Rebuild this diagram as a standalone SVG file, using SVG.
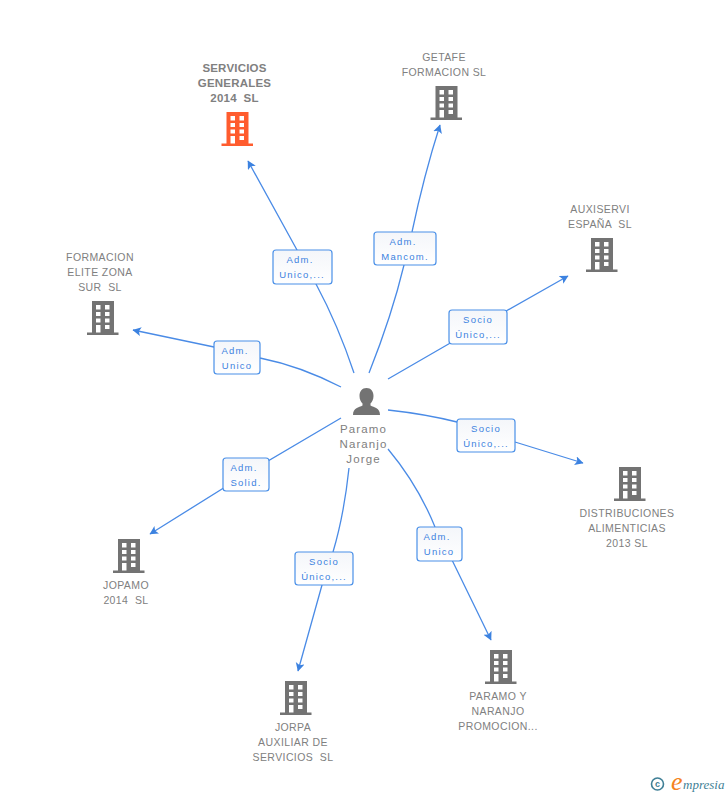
<svg xmlns="http://www.w3.org/2000/svg" width="728" height="795" viewBox="0 0 728 795">
<style>
text{white-space:pre}
.t{font-family:"Liberation Sans",Arial,sans-serif;font-size:10.5px;letter-spacing:.4px;fill:#808080;text-anchor:middle}
.b{font-weight:bold;letter-spacing:.2px;font-size:11.5px}
.p{font-size:11.5px;letter-spacing:1.1px}
.l{font-family:"Liberation Sans",Arial,sans-serif;font-size:9.5px;letter-spacing:1.2px;fill:#3c82e0;text-anchor:middle}
.c{fill:none;stroke:#4a8be6;stroke-width:1.3}
.r{fill:url(#g);stroke:#4a90e8;stroke-width:1.2}
</style>
<defs>
<linearGradient id="g" x1="0" y1="0" x2="0" y2="1"><stop offset="0" stop-color="#f4f6fa"/><stop offset="1" stop-color="#fff"/></linearGradient>
<marker id="a" markerUnits="userSpaceOnUse" markerWidth="11" markerHeight="11" refX="8" refY="4.500" orient="auto"><path d="M0 0L8.500 4.500L0 9L2 4.500Z" fill="#3c82e0"/></marker>
<path id="bld" fill-rule="evenodd" d="M5 0H27V31.500H31.500V34H0V31.500H5ZM9 4V8.500H13.500V4ZM18 4V8.500H22.500V4ZM9 11V15H13.500V11ZM18 11V15H22.500V11ZM9 17.500V21.500H13.500V17.500ZM18 17.500V21.500H22.500V17.500ZM9 24V31.500H13.500V24ZM18 24V28H22.500V24Z"/>
</defs>
<g id="connectors">
<path class="c" marker-end="url(#a)" d="M354 373Q338 325 316 284L297 250L248 161"/>
<path class="c" marker-end="url(#a)" d="M369 373Q392 315 404 265L412 232Q424 175 440 125"/>
<path class="c" marker-end="url(#a)" d="M388 379L478 327L568 276"/>
<path class="c" marker-end="url(#a)" d="M388 410Q425 414 457 422L515 442L583 463"/>
<path class="c" marker-end="url(#a)" d="M388 449Q418 485 435 527L452 560L491 640"/>
<path class="c" marker-end="url(#a)" d="M349 468Q344 515 333 552L322 585L298 671"/>
<path class="c" marker-end="url(#a)" d="M341 418L246 474L150 534"/>
<path class="c" marker-end="url(#a)" d="M341 387Q300 366 260 358L214 347L133 330"/>
</g>
<g id="n-servicios"><use href="#bld" x="221.500" y="112" fill="#ff5c2e"/><text class="t b" x="234.500" y="72">SERVICIOS</text><text class="t b" x="234.500" y="87">GENERALES</text><text class="t b" x="234.500" y="102">2014  SL</text></g>
<g id="n-getafe"><use href="#bld" x="430.500" y="86" fill="#737373"/><text class="t" x="444" y="61">GETAFE</text><text class="t" x="444" y="76">FORMACION SL</text></g>
<g id="n-auxiservi"><use href="#bld" x="586" y="238" fill="#737373"/><text class="t" x="600" y="213">AUXISERVI</text><text class="t" x="600" y="228">ESPAÑA  SL</text></g>
<g id="n-distribuciones"><use href="#bld" x="614" y="467" fill="#737373"/><text class="t" x="627" y="517">DISTRIBUCIONES</text><text class="t" x="627" y="532">ALIMENTICIAS</text><text class="t" x="627" y="547">2013 SL</text></g>
<g id="n-paramo-naranjo"><use href="#bld" x="485" y="650" fill="#737373"/><text class="t" x="498" y="700">PARAMO Y</text><text class="t" x="498" y="715">NARANJO</text><text class="t" x="498" y="730">PROMOCION...</text></g>
<g id="n-jorpa"><use href="#bld" x="280" y="681" fill="#737373"/><text class="t" x="293" y="731">JORPA</text><text class="t" x="293" y="746">AUXILIAR DE</text><text class="t" x="293" y="761">SERVICIOS  SL</text></g>
<g id="n-jopamo"><use href="#bld" x="113" y="539" fill="#737373"/><text class="t" x="126" y="589">JOPAMO</text><text class="t" x="126" y="604">2014  SL</text></g>
<g id="n-formacion"><use href="#bld" x="87" y="301" fill="#737373"/><text class="t" x="100" y="261">FORMACION</text><text class="t" x="100" y="276">ELITE ZONA</text><text class="t" x="100" y="291">SUR  SL</text></g>
<g id="n-person"><path fill="#737373" d="M366.500 388C371 388 373.500 391.500 373.500 396C373.500 399.500 372 402 370.500 403.500V405.500C374 407.500 380 407.500 380 415H353C353 407.500 359 407.500 362.500 405.500V403.500C361 402 359.500 399.500 359.500 396C359.500 391.500 362 388 366.500 388Z"/><text class="t p" x="363.500" y="433">Paramo</text><text class="t p" x="363.500" y="448">Naranjo</text><text class="t p" x="363.500" y="463">Jorge</text></g>
<g id="e-servicios"><rect class="r" x="273" y="250" width="59" height="34" rx="3"/><text class="l" x="300" y="263">Adm.</text><text class="l" x="302" y="278">Unico,...</text></g>
<g id="e-getafe"><rect class="r" x="374" y="232" width="62" height="33" rx="3"/><text class="l" x="403" y="245">Adm.</text><text class="l" x="405" y="260">Mancom.</text></g>
<g id="e-auxiservi"><rect class="r" x="449" y="310" width="58" height="34" rx="3"/><text class="l" x="478" y="323">Socio</text><text class="l" x="478" y="338">Único,...</text></g>
<g id="e-distribuciones"><rect class="r" x="457" y="419" width="58" height="33" rx="3"/><text class="l" x="486" y="432">Socio</text><text class="l" x="486" y="447">Único,...</text></g>
<g id="e-paramo"><rect class="r" x="417" y="527" width="45" height="34" rx="3"/><text class="l" x="437" y="540">Adm.</text><text class="l" x="439" y="555">Unico</text></g>
<g id="e-jorpa"><rect class="r" x="295" y="552" width="58" height="33" rx="3"/><text class="l" x="324" y="565">Socio</text><text class="l" x="324" y="580">Único,...</text></g>
<g id="e-jopamo"><rect class="r" x="223" y="458" width="46" height="33" rx="3"/><text class="l" x="244" y="471">Adm.</text><text class="l" x="246" y="486">Solid.</text></g>
<g id="e-formacion"><rect class="r" x="214" y="341" width="46" height="33" rx="3"/><text class="l" x="235" y="354">Adm.</text><text class="l" x="237" y="369">Unico</text></g>
<g id="logo"><circle cx="657.500" cy="784" r="6" fill="none" stroke="#3f7f96" stroke-width="1.600"/><text x="657.500" y="787" font-family="'Liberation Sans',sans-serif" font-size="9" font-weight="bold" fill="#3f7f96" text-anchor="middle">c</text><text x="671" y="790" font-family="'Liberation Serif',serif" font-size="26" font-style="italic" fill="#f58220">e</text><text x="683" y="789" font-family="'Liberation Serif',serif" font-size="13" font-style="italic" fill="#3f7f96">mpresia</text></g>
</svg>
